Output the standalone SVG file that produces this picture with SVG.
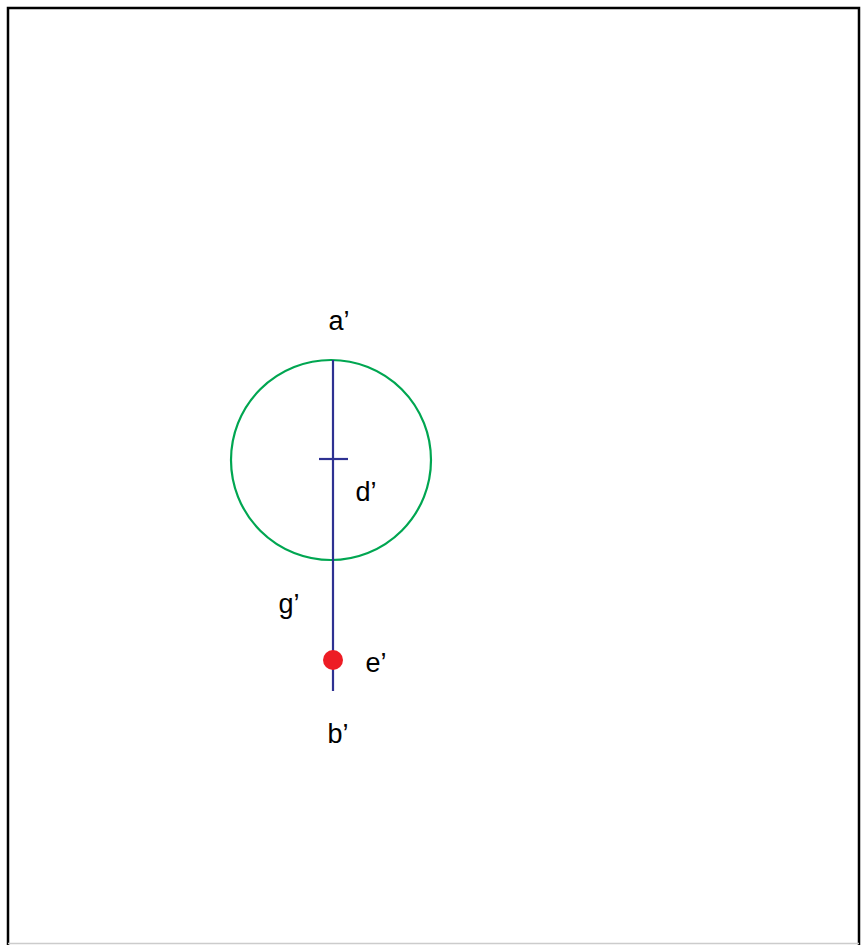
<svg xmlns="http://www.w3.org/2000/svg" width="862" height="945" viewBox="0 0 862 945">
<style>
.lbl{font-family:"Liberation Sans",Arial,sans-serif;font-size:27px;fill:#000;text-anchor:middle}
.axis{stroke:#2e3192;stroke-width:2.2;fill:none}
</style>
<rect x="0" y="0" width="862" height="945" fill="#fff"/>
<path d="M8,945 V8 H859 V945" fill="none" stroke="#000" stroke-width="2.5"/>
<line x1="8" y1="943.5" x2="859" y2="943.5" stroke="#ccc" stroke-width="1.5"/>
<g id="circle"><circle cx="331" cy="460" r="100" fill="none" stroke="#00a651" stroke-width="2.2"/></g>
<g id="connectors">
<line class="axis" x1="333" y1="360" x2="333" y2="691"/>
<line class="axis" x1="319" y1="459" x2="348" y2="459"/>
</g>
<g id="e"><circle cx="333" cy="660" r="10" fill="#ed1c24"/><text class="lbl" x="376" y="672">e’</text></g>
<g id="a"><text class="lbl" x="339" y="330">a’</text></g>
<g id="d"><text class="lbl" x="366" y="501">d’</text></g>
<g id="g"><text class="lbl" x="289" y="613">g’</text></g>
<g id="b"><text class="lbl" x="338" y="743">b’</text></g>
</svg>
